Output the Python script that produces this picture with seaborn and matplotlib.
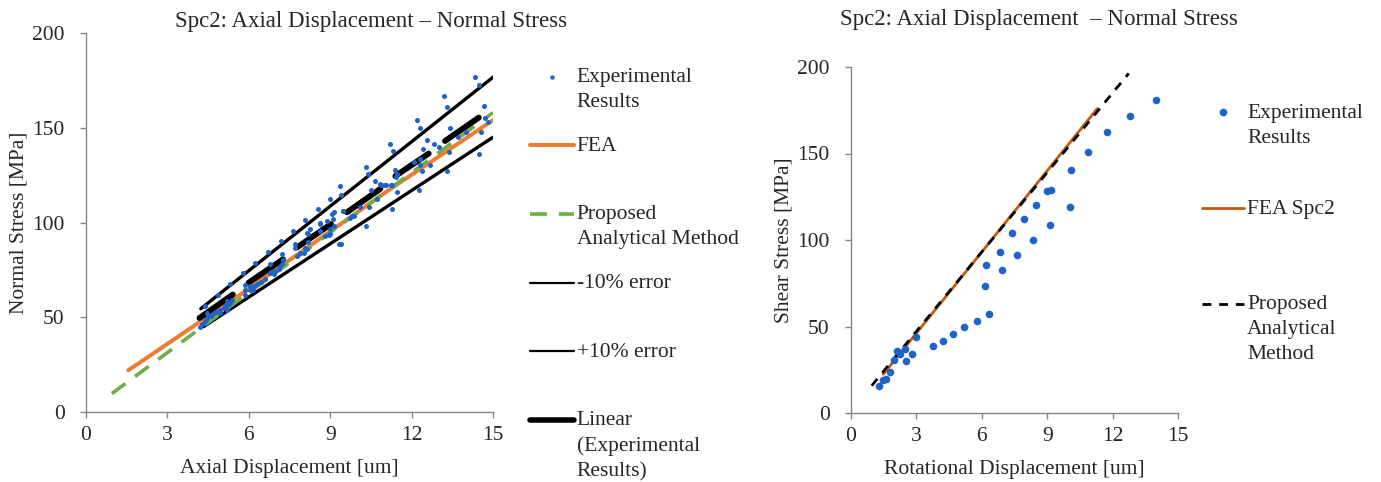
import numpy as np
import seaborn as sns
from matplotlib import pyplot as plt
from matplotlib.legend_handler import HandlerLine2D
from matplotlib.lines import Line2D

# left chart: experimental points (axial displacement um, normal stress MPa)
exp_axial_x = [4.21, 4.27, 4.35, 4.39, 4.43, 4.45, 4.45, 4.39, 4.50, 4.60, 4.70, 4.80, 4.88, 4.94, 4.94,
               5.07, 5.13, 5.19, 5.19, 5.25, 5.31, 5.38, 5.31,
               5.78, 5.87, 5.87, 5.87, 6.05, 6.05, 6.17, 6.20, 6.24, 6.30, 6.45, 6.60, 6.70, 6.79, 6.79,
               6.80, 6.92, 6.97, 7.13, 7.16, 7.18, 7.22, 7.22, 7.26,
               7.63, 7.71, 7.71, 7.77, 7.90, 8.02, 8.08, 8.08, 8.14, 8.14, 8.20, 8.20, 8.27, 8.54, 8.61,
               8.63, 8.63, 8.82, 8.88, 8.94, 8.98, 9.00, 9.00, 9.07, 9.10, 9.13, 9.13, 9.31, 9.38,
               9.37, 9.41, 9.47, 9.49, 9.72, 9.80, 9.86, 10.10, 10.32, 10.33, 10.39, 10.42, 10.50, 10.66,
               10.73, 10.85, 10.89, 10.97, 11.07, 11.24, 11.28,
               11.22, 11.31, 11.28, 11.40, 11.44, 11.46, 11.46, 12.08, 12.20, 12.27, 12.30, 12.32, 12.32,
               12.38, 12.42, 12.57, 12.67, 12.82,
               13.00, 13.21, 13.31, 13.31, 13.37, 13.43, 13.70, 14.00, 14.35, 14.48, 14.50, 14.56, 14.66,
               14.81, 14.70]
exp_axial_y = [44.6, 46.5, 46.9, 48.0, 48.7, 49.6, 52.2, 55.7, 51.0, 50.5, 52.0, 53.0, 61.6, 54.0, 52.2,
               54.9, 55.7, 58.4, 54.0, 56.6, 57.5, 59.3, 67.3,
               73.1, 66.8, 62.0, 64.6, 64.6, 66.4, 64.3, 66.4, 78.5, 67.3, 68.5, 70.0, 84.5, 73.5, 77.9,
               73.8, 72.6, 74.4, 75.3, 77.0, 90.2, 77.9, 83.2, 80.0,
               95.3, 88.6, 86.3, 82.3, 84.1, 84.1, 86.8, 101.3, 85.9, 94.4, 89.5, 93.9, 96.5, 107.2, 99.2,
               95.6, 99.7, 93.0, 101.0, 93.4, 93.9, 96.5, 112.5, 104.5, 101.9, 98.3, 105.4, 88.6, 88.6,
               119.0, 114.3, 106.3, 106.0, 102.2, 103.6, 103.6, 108.0, 98.3, 129.4, 125.8, 108.1, 116.9, 121.7,
               112.5, 120.5, 119.9, 119.6, 119.6, 119.6, 107.2,
               141.2, 137.7, 119.6, 127.6, 124.0, 116.0, 125.8, 132.0, 154.1, 116.9, 133.4, 149.7, 130.2,
               127.2, 138.7, 143.5, 130.6, 141.2,
               140.0, 166.6, 160.7, 127.0, 137.0, 150.1, 145.0, 148.0, 177.0, 172.8, 136.4, 147.6, 161.3,
               152.8, 155.0]

fea_axial_x = [1.56, 6.0, 11.2, 15.0]
fea_axial_y = [22.0, 65.0, 117.5, 154.0]
prop_axial_x = [0.95, 15.0]
prop_axial_y = [9.7, 158.0]
minus10_x = [4.33, 15.0]
minus10_y = [45.0, 145.0]
plus10_x = [4.23, 15.03]
plus10_y = [54.5, 177.0]

# linear trend of each experimental group: (x0, x1), (y0, y1)
trend_x = [(4.18, 5.41), (5.99, 7.26), (7.77, 9.03), (9.62, 10.85), (11.40, 12.63), (13.23, 14.48)]
trend_y = [(49.6, 62.0), (68.2, 80.6), (86.8, 99.2), (105.4, 117.8), (124.5, 136.4), (143.0, 155.4)]

# right chart: rotational displacement vs shear stress
exp_rot_x = [1.28, 1.45, 1.59, 1.80, 1.99, 2.13, 2.25, 2.46, 2.51, 2.80, 2.97, 3.75, 4.22, 4.66, 5.18,
             5.77, 6.32, 6.13, 6.21, 6.93, 6.82, 7.61, 7.39, 8.36, 7.94, 9.13, 9.00, 9.19, 10.04, 8.47,
             10.08, 10.86, 11.76, 12.82, 14.00]
exp_rot_y = [15.4, 19.0, 19.6, 23.5, 30.6, 35.8, 34.0, 36.8, 30.0, 33.9, 43.8, 38.5, 41.8, 45.8, 49.7,
             53.0, 57.2, 73.2, 85.4, 82.7, 93.2, 91.3, 104.0, 100.0, 112.0, 108.7, 128.5, 129.0, 119.0, 120.0,
             140.6, 150.9, 162.3, 171.7, 180.9]
fea_rot_x = [1.48, 11.30]
fea_rot_y = [22.4, 176.0]
prop_rot_x = [0.95, 12.74]
prop_rot_y = [15.8, 196.3]

left_labels = ["Experimental\nResults", "FEA\n", "Proposed\nAnalytical Method", "-10% error\n",
               "+10% error\n", "Linear\n(Experimental\nResults)"]
right_labels = ["Experimental\nResults\n", "FEA Spc2\n\n", "Proposed\nAnalytical\nMethod"]

PITCH = 18.4  # legend text line pitch in points
LINESPACING = 1.42
GREEN_DASH = (0, (4.7, 3.3))


class FirstLineHandler(HandlerLine2D):
    # put the legend key next to the first line of a multi-line label
    def __init__(self, n_lines, **kw):
        super().__init__(**kw)
        self.n_lines = n_lines

    def create_artists(self, legend, orig_handle, xdescent, ydescent, width, height, fontsize, trans):
        arts = super().create_artists(legend, orig_handle, xdescent, ydescent, width, height, fontsize, trans)
        for a in arts:
            a.set_ydata(np.asarray(a.get_ydata(), dtype=float) + (self.n_lines - 1) / 2 * PITCH)
        return arts


sns.set_style("white")
plt.rcParams['font.family'] = ['Liberation Serif', 'DejaVu Serif']
FS = 15.5
ink = "#262626"
blue = "#1F63C6"

fig = plt.figure(figsize=(13.81, 4.82), dpi=100)
ax1 = fig.add_axes([86 / 1381, 1 - 412 / 482, 407 / 1381, 379 / 482])
ax2 = fig.add_axes([851 / 1381, 1 - 413 / 482, 327 / 1381, 346 / 482])

# ---- left chart
sns.scatterplot(x=exp_axial_x, y=exp_axial_y, ax=ax1, color=blue, s=13, linewidth=0, zorder=5)
sns.lineplot(x=fea_axial_x, y=fea_axial_y, ax=ax1, color="#ED7D31", lw=2.9, sort=False,
             estimator=None, zorder=3)
sns.lineplot(x=prop_axial_x, y=prop_axial_y, ax=ax1, color="#70AD47", lw=2.6, sort=False,
             estimator=None, zorder=4, dashes=False, ls=GREEN_DASH)
sns.lineplot(x=minus10_x, y=minus10_y, ax=ax1, color="black", lw=2.4, sort=False,
             estimator=None, zorder=2)
sns.lineplot(x=plus10_x, y=plus10_y, ax=ax1, color="black", lw=2.4, sort=False,
             estimator=None, zorder=2)
for tx, ty in zip(trend_x, trend_y):
    sns.lineplot(x=list(tx), y=list(ty), ax=ax1, color="black", lw=4.2, sort=False, estimator=None,
                 zorder=4)

left_handles = [Line2D([], [], ls="none", marker="o", markersize=3.2, color=blue, mew=0),
                Line2D([], [], color="#ED7D31", lw=2.9),
                Line2D([], [], color="#70AD47", lw=2.6, ls=GREEN_DASH),
                Line2D([], [], color="black", lw=1.6),
                Line2D([], [], color="black", lw=1.6),
                Line2D([], [], color="black", lw=4.0)]
left_lines = [lab.count("\n") + 1 for lab in left_labels]
leg1 = ax1.legend(left_handles, left_labels,
                  handler_map={h: FirstLineHandler(n) for h, n in zip(left_handles, left_lines)},
                  loc="upper left", bbox_to_anchor=(530 / 1381, 1 - 68 / 482),
                  bbox_transform=fig.transFigure, frameon=False, fontsize=FS, labelspacing=1.15,
                  handlelength=2.05, handletextpad=0.12, borderpad=0, borderaxespad=0)

ax1.set_xlim(0, 15)
ax1.set_ylim(0, 200)
ax1.set_xticks(range(0, 16, 3))
ax1.set_yticks(range(0, 201, 50))
ax1.set_xlabel("Axial Displacement [um]", fontsize=FS, labelpad=10)
ax1.set_ylabel("Normal Stress [MPa]", fontsize=FS, labelpad=3)
fig.text(371 / 1381, 1 - 21 / 482, "Spc2: Axial Displacement \u2013 Normal Stress", fontsize=16.5,
         ha="center", va="center", color=ink)

# ---- right chart
sns.scatterplot(x=exp_rot_x, y=exp_rot_y, ax=ax2, color=blue, s=30, linewidth=0, zorder=5)
sns.lineplot(x=fea_rot_x, y=fea_rot_y, ax=ax2, color="#C55A11", lw=2.0, sort=False,
             estimator=None, zorder=3)
sns.lineplot(x=prop_rot_x, y=prop_rot_y, ax=ax2, color="black", lw=2.0, sort=False,
             estimator=None, zorder=4, dashes=False, ls=(0, (3.2, 2.8)))

right_handles = [Line2D([], [], ls="none", marker="o", markersize=5.5, color=blue, mew=0),
                 Line2D([], [], color="#C55A11", lw=2.0),
                 Line2D([], [], color="black", lw=2.0, ls=(0, (3.2, 2.8)))]
right_lines = [lab.count("\n") + 1 for lab in right_labels]
leg2 = ax2.legend(right_handles, right_labels,
                  handler_map={h: FirstLineHandler(n) for h, n in zip(right_handles, right_lines)},
                  loc="upper left", bbox_to_anchor=(1202 / 1381, 1 - 104 / 482),
                  bbox_transform=fig.transFigure, frameon=False, fontsize=FS, labelspacing=1.25,
                  handlelength=1.95, handletextpad=0.15, borderpad=0, borderaxespad=0)

ax2.set_xlim(0, 15)
ax2.set_ylim(0, 200)
ax2.set_xticks(range(0, 16, 3))
ax2.set_yticks(range(0, 201, 50))
ax2.set_xlabel("Rotational Displacement [um]", fontsize=FS, labelpad=10)
ax2.set_ylabel("Shear Stress [MPa]", fontsize=FS, labelpad=3)
fig.text(1039 / 1381, 1 - 20 / 482, "Spc2: Axial Displacement  \u2013 Normal Stress", fontsize=16.5,
         ha="center", va="center", color=ink)

for leg in (leg1, leg2):
    for t in leg.get_texts():
        t.set_linespacing(LINESPACING)
        t.set_color(ink)

for ax in (ax1, ax2):
    sns.despine(ax=ax)
    for side in ("left", "bottom"):
        ax.spines[side].set_color("#868686")
        ax.spines[side].set_linewidth(1.0)
    ax.tick_params(direction="out", length=4.3, width=1.0, color="#868686", labelsize=FS,
                   labelcolor=ink, left=True, bottom=True)
    ax.tick_params(axis="y", pad=11)
    ax.tick_params(axis="x", pad=6)
    ax.xaxis.label.set_color(ink)
    ax.yaxis.label.set_color(ink)

fig.savefig("out.png", dpi=100)
